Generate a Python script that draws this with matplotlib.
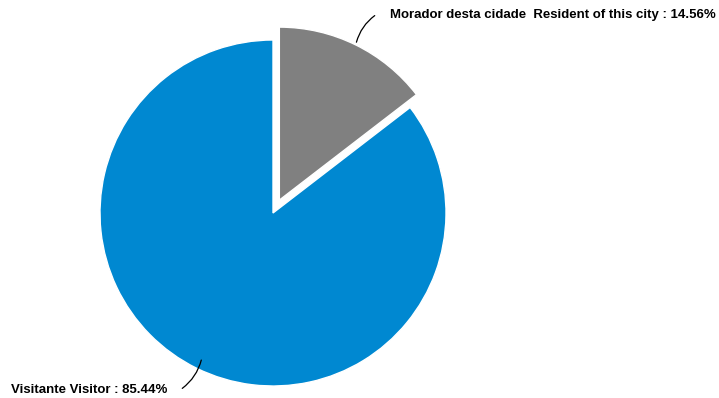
import numpy as np
import matplotlib
matplotlib.use("Agg")
import matplotlib.pyplot as plt

labels = ["Morador desta cidade  Resident of this city", "Visitante Visitor"]
shares = [14.56, 85.44]
colours = ["#808080", "#0088d1"]
explode = [0.083, 0.0]

plt.rcParams["font.family"] = ["Liberation Sans", "DejaVu Sans"]

W, H = 719, 398
fig = plt.figure(figsize=(W / 100, H / 100), dpi=100)
ax = fig.add_axes([0, 0, 1, 1])

centre = (273, H - 213)
radius = 173
# pie takes explode in data units, so scale by the radius
wedges, _ = ax.pie(shares, colors=colours, explode=[e * radius for e in explode],
                   startangle=90, counterclock=False, center=centre, radius=radius,
                   wedgeprops={"edgecolor": "white", "linewidth": 1},
                   frame=True)
ax.set_xlim(0, W)
ax.set_ylim(0, H)
ax.set_aspect("equal")
ax.axis("off")

# leader lines start on the wedge at its mid angle
label_pos = [((377, H - 14), (390, H - 15), "left", 1.0, 0.2),
             ((180, H - 390), (167, H - 390), "right", 0.93, 0.2)]
for wedge, lab, val, (end, txt, ha, rf, rad) in zip(wedges, labels, shares, label_pos):
    mid = np.radians((wedge.theta1 + wedge.theta2) / 2)
    cx, cy = wedge.center
    start = (cx + rf * wedge.r * np.cos(mid), cy + rf * wedge.r * np.sin(mid))
    ax.annotate("", xy=start, xytext=end,
                arrowprops=dict(arrowstyle="-", color="black", lw=0.9,
                                connectionstyle="arc3,rad=%s" % rad))
    ax.text(txt[0], txt[1], "%s : %.2f%%" % (lab, val), ha=ha, va="center",
            fontsize=9.5, fontweight="bold", color="black")

fig.savefig("out.png", dpi=100)
